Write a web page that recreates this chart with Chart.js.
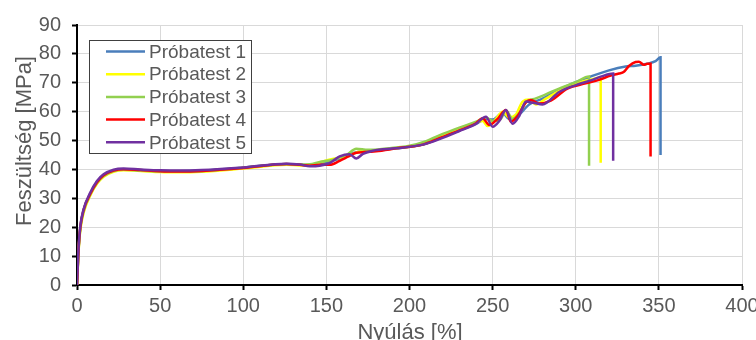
<!DOCTYPE html>
<html>
<head>
<meta charset="utf-8">
<script src="https://cdn.jsdelivr.net/npm/chart.js@4/dist/chart.umd.min.js"></script>
<style>
  html, body { margin: 0; padding: 0; background: #fff; }
</style>
</head>
<body>
<canvas id="chart" width="756" height="340"></canvas>
<script>
// adatsorok - nyúlás [%] és feszültség [MPa]
const labels = ['Próbatest 1', 'Próbatest 2', 'Próbatest 3', 'Próbatest 4', 'Próbatest 5'];
const colors = ['#4a7ebb', '#ffff00', '#92d050', '#ff0000', '#7030a0'];

const x1 = [0, 1, 2, 4, 8, 12, 16, 22, 28, 38, 50, 62, 75, 100, 126, 136, 142, 150, 158, 165, 172, 180, 192, 208, 218, 230, 240, 246, 250, 256, 260, 265, 272, 280, 290, 300, 310, 320, 330, 336, 343, 348, 351, 351];
const y1 = [0, 13, 20, 26, 31.7, 35.7, 38, 39.6, 40.1, 39.8, 39.5, 39.4, 39.6, 40.6, 41.9, 41.6, 41.3, 42.5, 43.8, 45.5, 46.3, 46.6, 47.3, 48.6, 50.8, 53.6, 55.8, 57.5, 57.3, 59.5, 57.5, 58.5, 62.5, 64.5, 67.6, 70.2, 72.4, 74.3, 75.6, 75.9, 76.6, 77.5, 78.8, 45];

const x2 = [0, 1, 2, 4, 8, 12, 16, 22, 28, 38, 50, 62, 75, 100, 126, 134, 140, 148, 155, 162, 170, 178, 192, 208, 218, 230, 240, 244, 247, 252, 256, 260, 264, 268, 272, 276, 282, 290, 300, 308, 315, 315];
const y2 = [0, 12, 19, 25, 31, 35, 37.5, 39.2, 39.7, 39.5, 39.1, 39.0, 39.2, 40.3, 41.6, 41.4, 41.5, 42.8, 43.8, 44.5, 46.2, 46.5, 47.3, 48.8, 51.5, 54.2, 56.3, 56.8, 55.0, 57.5, 60.0, 58.0, 59.0, 63.5, 64.2, 62.5, 64.5, 67.2, 69.8, 71.0, 71.8, 42.3];

const x3 = [0, 1, 2, 4, 8, 12, 16, 22, 28, 38, 50, 62, 75, 100, 126, 134, 140, 146, 154, 162, 168, 175, 185, 200, 210, 220, 230, 240, 246, 250, 255, 258, 262, 266, 270, 276, 282, 290, 300, 308, 308];
const y3 = [0, 12.5, 19.5, 25.5, 31.3, 35.3, 37.7, 39.4, 39.9, 39.6, 39.3, 39.2, 39.4, 40.6, 41.8, 41.7, 41.8, 42.6, 43.4, 45.0, 47.2, 46.8, 47.2, 48.2, 49.8, 52.3, 54.5, 56.5, 58.0, 56.8, 57.5, 60.5, 57.5, 59.5, 63.2, 64.6, 66.0, 68.0, 70.2, 72.2, 41.3];

const x4 = [0, 1, 2, 4, 8, 12, 16, 22, 28, 38, 50, 62, 75, 100, 126, 134, 140, 146, 152, 158, 163, 168, 173, 180, 192, 208, 218, 230, 240, 244, 248, 253, 258, 261, 265, 270, 273, 278, 285, 295, 306, 314, 321, 326, 329, 332, 336, 338, 341, 343, 345, 345];
const y4 = [0, 13, 20, 26, 31.6, 35.6, 38, 39.6, 40.1, 39.8, 39.4, 39.3, 39.5, 40.5, 41.9, 41.6, 41.3, 41.6, 41.6, 43.0, 44.4, 45.8, 46.0, 46.3, 47.3, 48.6, 50.8, 53.5, 56.0, 57.7, 55.4, 57.5, 60.6, 56.5, 58.5, 63.2, 64.0, 62.8, 63.8, 68.0, 69.8, 71.0, 72.5, 73.2, 73.8, 75.8, 77.2, 77.3, 76.2, 76.6, 76.6, 44.5];

const x5 = [0, 1, 2, 4, 8, 12, 16, 22, 28, 38, 50, 62, 75, 100, 126, 134, 140, 146, 152, 158, 164, 168, 172, 178, 192, 208, 218, 230, 240, 246, 250, 254, 258, 262, 266, 270, 275, 280, 290, 300, 310, 316, 322.5, 322.5];
const y5 = [0, 13.5, 20.5, 26.3, 32, 36, 38.3, 39.9, 40.3, 40.0, 39.7, 39.6, 39.8, 40.7, 42.0, 41.7, 41.1, 41.3, 42.2, 44.5, 45.3, 43.8, 45.4, 46.5, 47.3, 48.6, 50.5, 53.3, 55.8, 58.2, 54.8, 56.8, 60.6, 55.8, 58.5, 63.5, 63.0, 62.5, 66.8, 69.2, 71.0, 72.3, 73.2, 43];

const xs = [x1, x2, x3, x4, x5];
const ys = [y1, y2, y3, y4, y5];

const xTicks = [0, 50, 100, 150, 200, 250, 300, 350, 400];
const yTicks = [0, 10, 20, 30, 40, 50, 60, 70, 80, 90];

const fontFam = "'Liberation Sans', Arial, sans-serif";
const textColor = '#595959';

const datasets = labels.map((lab, i) => ({
    label: lab,
    data: xs[i].map((v, k) => ({ x: v, y: ys[i][k] })),
    borderColor: colors[i],
    backgroundColor: colors[i],
    borderWidth: 2.5,
    pointRadius: 0,
    showLine: true,
    cubicInterpolationMode: 'monotone',
    order: 5 - i
}));

// jelmagyarázat és tengelycímek kirajzolása
const extras = {
    id: 'extras',
    afterDraw(chart) {
        const ctx = chart.ctx;
        ctx.save();
        // jelmagyarázat doboz
        ctx.fillStyle = '#fff';
        ctx.fillRect(89.5, 40.5, 162, 113);
        ctx.strokeStyle = '#404040';
        ctx.lineWidth = 1;
        ctx.strokeRect(89.5, 40.5, 162, 113);
        ctx.font = '19px ' + fontFam;
        ctx.textBaseline = 'middle';
        ctx.textAlign = 'left';
        labels.forEach((lab, i) => {
            const yy = 51.5 + i * 22.7;
            ctx.strokeStyle = colors[i];
            ctx.lineWidth = 2.5;
            ctx.beginPath();
            ctx.moveTo(106, yy);
            ctx.lineTo(145, yy);
            ctx.stroke();
            ctx.fillStyle = textColor;
            ctx.fillText(lab, 149, yy + 1);
        });
        // tengelycímek
        ctx.font = '22px ' + fontFam;
        ctx.fillStyle = textColor;
        ctx.textAlign = 'center';
        ctx.textBaseline = 'alphabetic';
        ctx.fillText('Nyúlás [%]', 410, 339);
        ctx.translate(31, 141);
        ctx.rotate(-Math.PI / 2);
        ctx.fillText('Feszültség [MPa]', 0, 0);
        ctx.restore();
    }
};

new Chart(document.getElementById('chart'), {
    type: 'scatter',
    data: { datasets: datasets },
    plugins: [extras],
    options: {
        responsive: false,
        animation: false,
        layout: { padding: { top: 25, right: 0, left: 0, bottom: 0 } },
        plugins: {
            legend: { display: false },
            tooltip: { enabled: false }
        },
        scales: {
            x: {
                type: 'linear',
                min: 0,
                max: 400,
                afterBuildTicks: s => { s.ticks = xTicks.map(v => ({ value: v })); },
                afterFit: s => { s.height = 55; s.paddingRight = 14; s.paddingLeft = 0; },
                ticks: { color: textColor, font: { family: fontFam, size: 20 }, padding: 4, maxRotation: 0 },
                grid: { color: '#d9d9d9', lineWidth: 1, tickColor: '#000', tickLength: 5, tickWidth: 2 },
                border: { color: '#000', width: 2 }
            },
            y: {
                type: 'linear',
                min: 0,
                max: 90,
                afterBuildTicks: s => { s.ticks = yTicks.map(v => ({ value: v })); },
                afterFit: s => { s.width = 77; },
                ticks: { color: textColor, font: { family: fontFam, size: 20 }, padding: 11 },
                grid: { color: '#d9d9d9', lineWidth: 1, tickColor: '#000', tickLength: 5, tickWidth: 2 },
                border: { color: '#000', width: 2 }
            }
        }
    }
});
</script>
</body>
</html>
